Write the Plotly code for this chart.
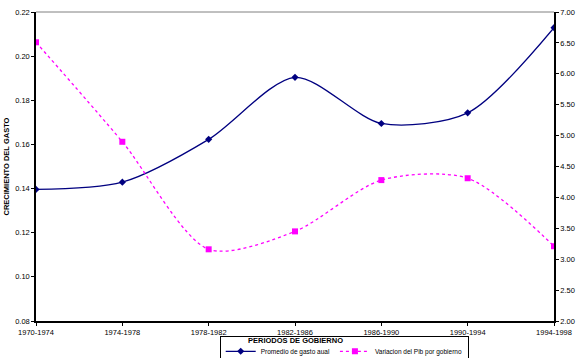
import plotly.graph_objects as go

periodos = ["1970-1974", "1974-1978", "1978-1982", "1982-1986", "1986-1990", "1990-1994", "1994-1998"]
gasto = [0.1396, 0.1429, 0.1623, 0.1904, 0.1695, 0.1743, 0.2129]
pib = [6.51, 4.90, 3.16, 3.45, 4.28, 4.31, 3.21]

left_ticks = [0.08, 0.10, 0.12, 0.14, 0.16, 0.18, 0.20, 0.22]
right_ticks = [2.0, 2.5, 3.0, 3.5, 4.0, 4.5, 5.0, 5.5, 6.0, 6.5, 7.0]

FONT = "Liberation Sans, Arial, sans-serif"

fig = go.Figure()
fig.add_trace(go.Scatter(
    x=periodos, y=gasto, name="Promedio de gasto aual",
    mode="lines+markers",
    line=dict(color="#000080", width=1.3, shape="spline", smoothing=0.8),
    marker=dict(symbol="diamond", size=5.5, color="#000080"),
    yaxis="y"))
fig.add_trace(go.Scatter(
    x=periodos, y=pib, name="Variacion del Pib por gobierno",
    mode="lines+markers",
    line=dict(color="#FF00FF", width=1.3, dash="dot", shape="spline", smoothing=0.8),
    marker=dict(symbol="square", size=6, color="#FF00FF"),
    yaxis="y2"))

fig.update_layout(
    width=577, height=358,
    margin=dict(l=36, r=23, t=12, b=37, autoexpand=False),
    paper_bgcolor="white", plot_bgcolor="white",
    font=dict(family=FONT, size=7.5, color="black"),
    showlegend=True,
    legend=dict(orientation="h", x=0.595, y=-0.098, xanchor="center", yanchor="middle",
                bordercolor="black", borderwidth=1, bgcolor="white",
                font=dict(size=6.5), itemwidth=30, tracegroupgap=0),
    xaxis=dict(type="category", range=[0, 6], showgrid=False, automargin=False,
               showline=True, linecolor="black", linewidth=1.5,
               ticks="outside", ticklen=3, tickcolor="black",
               tickfont=dict(size=7.5)),
    yaxis=dict(range=[0.08, 0.22], tickvals=left_ticks,
               ticktext=[f"{v:.2f}" for v in left_ticks], automargin=False,
               showgrid=False, zeroline=False,
               showline=True, linecolor="black", linewidth=1.5,
               ticks="outside", ticklen=3, tickcolor="black",
               tickfont=dict(size=7.5)),
    yaxis2=dict(range=[2.0, 7.0], tickvals=right_ticks,
                ticktext=[f"{v:.2f}" for v in right_ticks], automargin=False,
                overlaying="y", side="right", showgrid=False, zeroline=False,
                showline=True, linecolor="black", linewidth=1.5,
                ticks="outside", ticklen=3, tickcolor="black",
                tickfont=dict(size=7.5)),
    shapes=[dict(type="line", xref="paper", yref="paper", x0=0, x1=1, y0=1, y1=1,
                 line=dict(color="gray", width=1))],
    annotations=[
        dict(text="<b>PERIODOS DE GOBIERNO</b>", xref="paper", yref="paper",
             x=0.5, y=-0.063, xanchor="center", yanchor="middle", showarrow=False,
             font=dict(size=7.5)),
        dict(text="<b>CRECIMIENTO DEL GASTO</b>", xref="paper", yref="paper",
             x=-0.056, y=0.5, xanchor="center", yanchor="middle", showarrow=False,
             textangle=-90, font=dict(size=7.5)),
    ],
)

fig.write_html("out.html", config={"displayModeBar": False},
               post_script="document.body.style.margin='0';document.body.style.overflow='hidden';")
